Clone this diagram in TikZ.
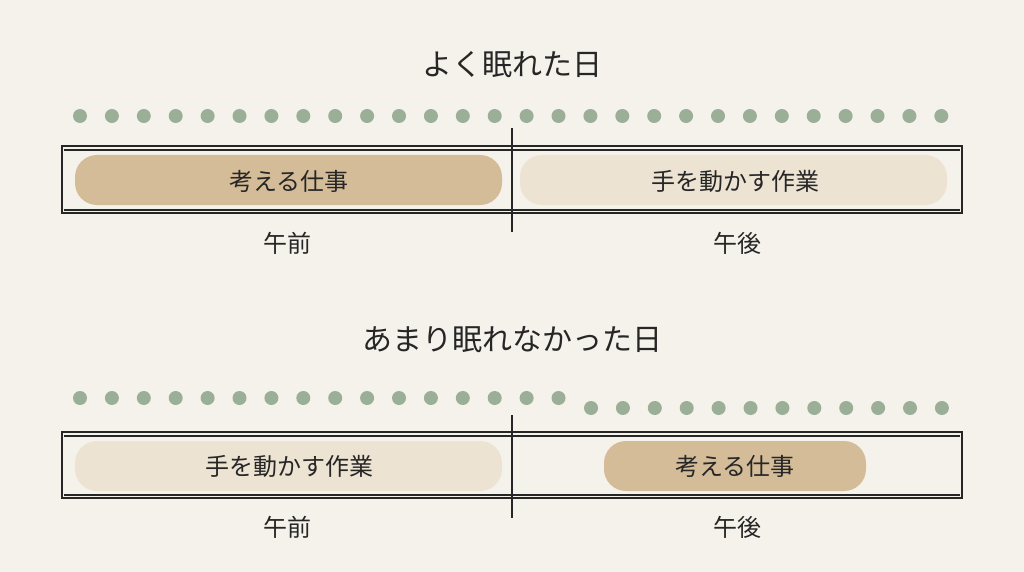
\documentclass[tikz,border=0pt]{standalone}
\usepackage{fontspec}
\setmainfont{Noto Sans CJK JP}
\begin{document}
\begin{tikzpicture}[x=1pt,y=-1pt,
  dot/.style={circle,fill=dotc,inner sep=0,minimum size=14},
  lbl/.style={font=\fontsize{24}{26}\selectfont,text=black!85},
  ttl/.style={font=\fontsize{30}{32}\selectfont,text=black!85},
  frame/.style={line width=1.3pt,draw=black!85}]
\definecolor{bg}{HTML}{F4F2EA}
\definecolor{dotc}{HTML}{9BAF98}
\definecolor{dark}{HTML}{D4BC98}
\definecolor{light}{HTML}{EDE3D3}
\fill[bg] (0,0) rectangle (1024,572);
\useasboundingbox (0,0) rectangle (1024,572);
% top
\node[ttl] (t1) at (512,65) {よく眠れた日};
\foreach \i in {0,...,27} \node[dot] (a\i) at (80+\i*31.9,116) {};
\fill[dark,rounded corners=22] (75,155) rectangle (502,205);
\fill[light,rounded corners=22] (520,155) rectangle (947,205);
\draw[frame] (62,146) rectangle (962,213);
\draw[frame] (64,150) -- (960,150); \draw[frame] (64,210) -- (960,210);
\draw[frame] (512,128) -- (512,232);
\node[lbl] (b1) at (289,181) {考える仕事};
\node[lbl] (b2) at (735,181) {手を動かす作業};
\node[lbl] (l1) at (287,243) {午前};
\node[lbl] (l2) at (737,243) {午後};
% bottom
\node[ttl] (t2) at (512,340) {あまり眠れなかった日};
\foreach \i in {0,...,15} \node[dot] (c\i) at (80+\i*31.9,398) {};
\foreach \i in {0,...,11} \node[dot] (d\i) at (591+\i*31.9,408) {};
\fill[light,rounded corners=22] (75,441) rectangle (502,491);
\fill[dark,rounded corners=22] (604,441) rectangle (866,491);
\draw[frame] (62,432) rectangle (962,498);
\draw[frame] (64,436) -- (960,436); \draw[frame] (64,495) -- (960,495);
\draw[frame] (512,415) -- (512,518);
\node[lbl] (b3) at (289,466) {手を動かす作業};
\node[lbl] (b4) at (735,466) {考える仕事};
\node[lbl] (l3) at (287,527) {午前};
\node[lbl] (l4) at (737,527) {午後};
\end{tikzpicture}
\end{document}
